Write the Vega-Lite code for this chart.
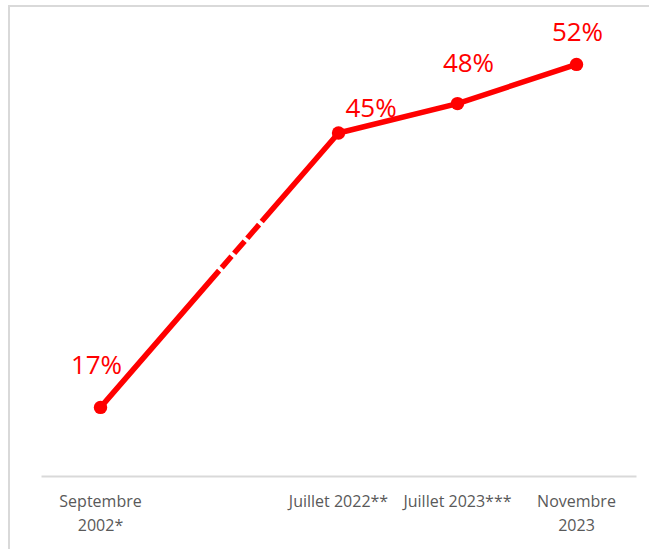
{
  "$schema": "https://vega.github.io/schema/vega-lite/v6.json",
  "width": 660,
  "height": 560,
  "autosize": "none",
  "padding": {"left": 9, "top": 6, "right": 0, "bottom": 0},
  "background": "white",
  "config": {
    "view": {"stroke": "#d9d9d9", "strokeWidth": 2},
    "font": "Open Sans"
  },
  "data": {
    "values": [
      {"period": "Septembre 2002*", "value": 17, "label": "17%"},
      {"period": "Juillet 2022**", "value": 45, "label": "45%"},
      {"period": "Juillet 2023***", "value": 48, "label": "48%"},
      {"period": "Novembre 2023", "value": 52, "label": "52%"}
    ]
  },
  "encoding": {
    "x": {
      "field": "period",
      "type": "nominal",
      "sort": null,
      "scale": {
        "type": "band",
        "domain": ["Septembre 2002*", " ", "Juillet 2022**", "Juillet 2023***", "Novembre 2023"],
        "range": [32, 627],
        "paddingInner": 0,
        "paddingOuter": 0
      },
      "axis": {
        "title": null,
        "orient": "bottom",
        "offset": -90,
        "domainColor": "#d9d9d9",
        "domainWidth": 2,
        "ticks": false,
        "grid": false,
        "labelAngle": 0,
        "labelAlign": "center",
        "labelBaseline": "top",
        "labelPadding": 17,
        "labelFontSize": 16,
        "labelColor": "#595959",
        "labelLineHeight": 24,
        "labelLimit": 0,
        "labelExpr": "datum.value == 'Septembre 2002*' ? ['Septembre', '2002*'] : datum.value == 'Novembre 2023' ? ['Novembre', '2023'] : datum.value"
      }
    },
    "y": {
      "field": "value",
      "type": "quantitative",
      "scale": {"domain": [10, 55], "range": [470, 29], "zero": false},
      "axis": null
    }
  },
  "layer": [
    {
      "transform": [{"filter": "datum.period == 'Septembre 2002*' || datum.period == 'Juillet 2022**'"}],
      "mark": {"type": "line", "color": "#ff0000", "strokeWidth": 5.5, "strokeCap": "butt", "strokeDash": [181, 4, 15, 4, 16, 4, 18, 4, 400]}
    },
    {
      "transform": [{"filter": "datum.period != 'Septembre 2002*'"}],
      "mark": {"type": "line", "color": "#ff0000", "strokeWidth": 5.5, "strokeCap": "round"}
    },
    {
      "mark": {"type": "point", "filled": true, "color": "#ff0000", "size": 180, "opacity": 1}
    },
    {
      "transform": [{"filter": "datum.period == 'Septembre 2002*'"}],
      "mark": {"type": "text", "color": "#ff0000", "fontSize": 26, "align": "center", "baseline": "alphabetic", "dx": -4, "dy": -33},
      "encoding": {"text": {"field": "label"}}
    },
    {
      "transform": [{"filter": "datum.period == 'Juillet 2022**'"}],
      "mark": {"type": "text", "color": "#ff0000", "fontSize": 26, "align": "left", "baseline": "alphabetic", "dx": 7, "dy": -16},
      "encoding": {"text": {"field": "label"}}
    },
    {
      "transform": [{"filter": "datum.period == 'Juillet 2023***'"}],
      "mark": {"type": "text", "color": "#ff0000", "fontSize": 26, "align": "center", "baseline": "alphabetic", "dx": 11, "dy": -32},
      "encoding": {"text": {"field": "label"}}
    },
    {
      "transform": [{"filter": "datum.period == 'Novembre 2023'"}],
      "mark": {"type": "text", "color": "#ff0000", "fontSize": 26, "align": "center", "baseline": "alphabetic", "dx": 1, "dy": -23},
      "encoding": {"text": {"field": "label"}}
    }
  ]
}
